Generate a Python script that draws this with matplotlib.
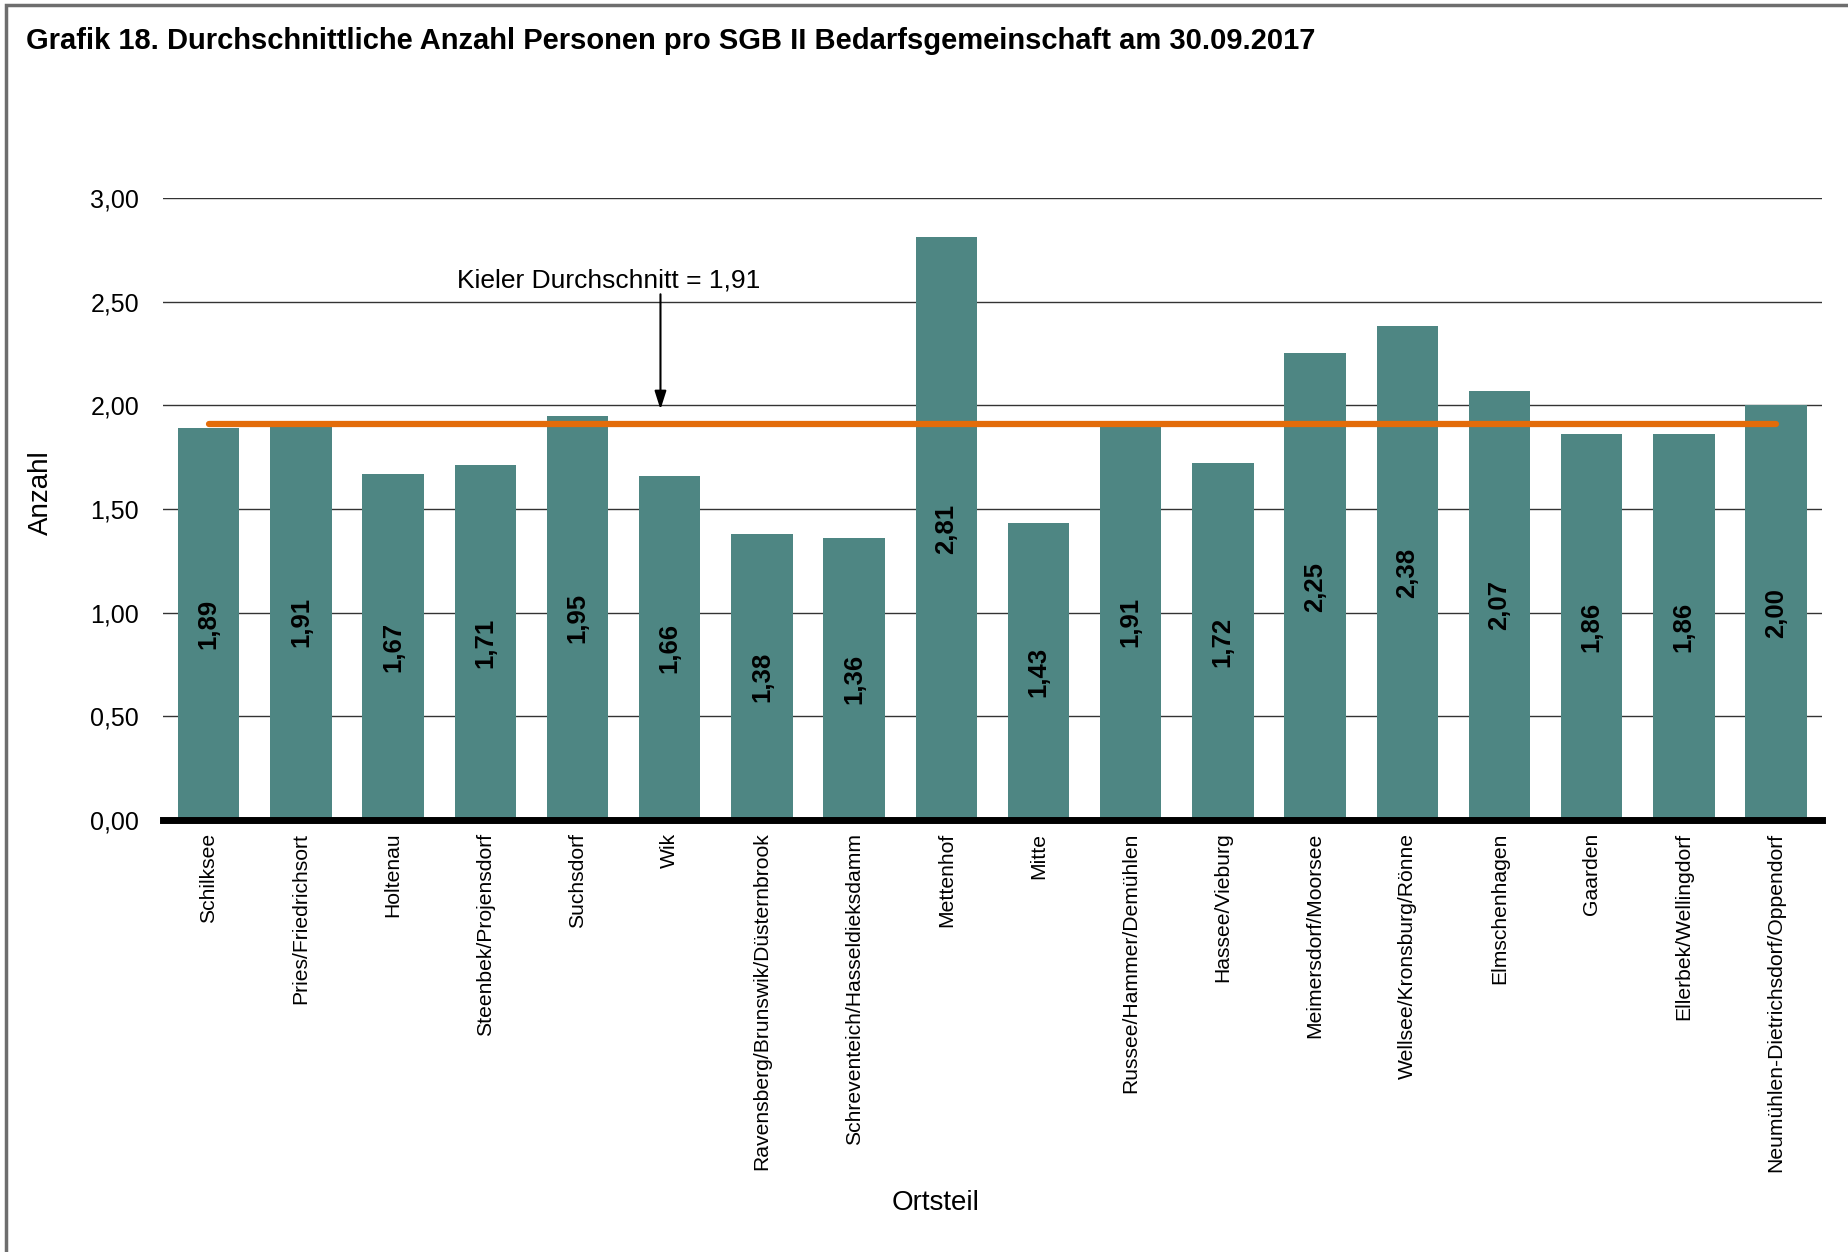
import matplotlib.pyplot as plt
import numpy as np
from matplotlib.patches import Rectangle

plt.rcParams['font.family'] = ['Liberation Sans', 'DejaVu Sans']

# Ortsteile und Werte
ortsteile = ['Schilksee', 'Pries/Friedrichsort', 'Holtenau', 'Steenbek/Projensdorf',
             'Suchsdorf', 'Wik', 'Ravensberg/Brunswik/Düsternbrook',
             'Schreventeich/Hasseldieksdamm', 'Mettenhof', 'Mitte',
             'Russee/Hammer/Demühlen', 'Hassee/Vieburg', 'Meimersdorf/Moorsee',
             'Wellsee/Kronsburg/Rönne', 'Elmschenhagen', 'Gaarden',
             'Ellerbek/Wellingdorf', 'Neumühlen-Dietrichsdorf/Oppendorf']
werte = [1.89, 1.91, 1.67, 1.71, 1.95, 1.66, 1.38, 1.36, 2.81, 1.43,
         1.91, 1.72, 2.25, 2.38, 2.07, 1.86, 1.86, 2.00]
kiel_schnitt = 1.91
yticks = [0.0, 0.5, 1.0, 1.5, 2.0, 2.5, 3.0]

fig = plt.figure(figsize=(18.48, 12.52), dpi=100)
ax = fig.add_axes([0.088, 0.345, 0.898, 0.497])

x = np.arange(len(ortsteile))
ax.bar(x, werte, width=0.667, color='#4E8683', zorder=2)

# Werte in den Balken
for xi, w in zip(x, werte):
    ax.text(xi, w / 2, f'{w:.2f}'.replace('.', ','), rotation=90,
            ha='center', va='center', fontsize=18.5, fontweight='bold', zorder=4)

# Kieler Durchschnitt
ax.plot([x[0], x[-1]], [kiel_schnitt, kiel_schnitt], color='#E36C0A',
        lw=4.5, solid_capstyle='round', zorder=3)
ax.annotate('', xy=(4.9, 1.98), xytext=(4.9, 2.535),
            arrowprops=dict(arrowstyle='-|>,head_width=0.35,head_length=1.1',
                            color='black', lw=1.5, shrinkA=0, shrinkB=0))
ax.text(4.34, 2.569, 'Kieler Durchschnitt = 1,91', ha='center', va='baseline',
        fontsize=19)

ax.set_xlim(-0.5, len(ortsteile) - 0.5)
ax.set_ylim(0, 3)
ax.set_yticks(yticks)
ax.set_yticklabels([f'{t:.2f}'.replace('.', ',') for t in yticks], fontsize=18)
ax.set_xticks(x)
ax.set_xticklabels(ortsteile, rotation=90, fontsize=15.2)
ax.tick_params(length=0)
ax.tick_params(axis='x', pad=9)
ax.tick_params(axis='y', pad=17)
ax.grid(axis='y', color='#333333', lw=1, zorder=1)
for s in ['left', 'right', 'top']:
    ax.spines[s].set_visible(False)
ax.spines['bottom'].set_linewidth(5)
ax.spines['bottom'].set_zorder(5)

ax.set_ylabel('Anzahl', fontsize=20)
ax.yaxis.set_label_coords(-0.0655, 0.526)
ax.set_xlabel('Ortsteil', fontsize=20)
ax.xaxis.set_label_coords(0.466, -0.595)

fig.text(0.014, 0.967, 'Grafik 18. Durchschnittliche Anzahl Personen pro SGB II '
         'Bedarfsgemeinschaft am 30.09.2017', fontsize=21, fontweight='bold',
         va='center')

# Rahmen oben und links
fig.add_artist(Rectangle((0.003, -0.1), 1.2, 1.096, transform=fig.transFigure,
                         fill=False, edgecolor='#6E6E6E', lw=2.5))

fig.savefig('out.png', dpi=100)
